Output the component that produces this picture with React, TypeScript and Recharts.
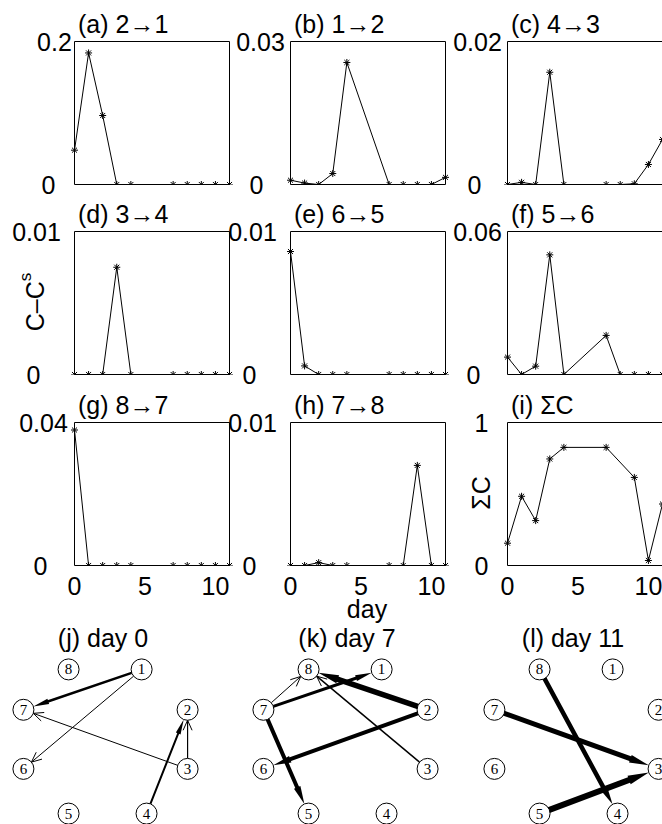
import React from 'react';
import { LineChart, Line, XAxis, YAxis, ScatterChart, Scatter } from 'recharts';

/* ---------- coupling time series ---------- */
const days = [0, 1, 2, 3, 4, 7, 8, 9, 10, 11];
const daysSum = [0, 1, 2, 3, 4, 7, 9, 10, 11];
const dayTicks = [0, 5, 10];

const c21 = [0.048, 0.184, 0.0965, 0, 0, 0, 0, 0, 0, 0];
const c12 = [0.0009, 0.0003, 0, 0.0023, 0.0256, 0, 0, 0, 0, 0.0015];
const c43 = [0, 0.0003, 0, 0.0157, 0, 0, 0, 0.0001, 0.0028, 0.0063];
const c34 = [0, 0, 0, 0.0075, 0, 0, 0, 0, 0, 0];
const c65 = [0.0086, 0.0006, 0, 0, 0, 0, 0, 0, 0, 0];
const c56 = [0.0073, 0, 0.0035, 0.0502, 0, 0.0164, 0, 0, 0, 0];
const c87 = [0.0379, 0, 0, 0, 0, 0, 0, 0, 0, 0];
const c78 = [0, 0, 0.0002, 0, 0, 0, 0, 0.007, 0, 0];
const sumC = [0.156, 0.484, 0.314, 0.745, 0.826, 0.826, 0.616, 0.035, 0.43];

/* ---------- network snapshots ---------- */
const nodeIds = [1, 2, 3, 4, 5, 6, 7, 8];
const nodeX = [0.44, 1, 1, 0.5, -0.45, -1, -1, -0.45];
const nodeY = [1, 0.44, -0.38, -1, -1, -0.38, 0.44, 1];

const day0From = [1, 1, 3, 3, 4];
const day0To = [7, 6, 7, 2, 2];
const day0Weight = [2.5, 1, 1, 1.2, 2];

const day7From = [7, 7, 2, 2, 3, 7];
const day7To = [8, 1, 8, 6, 8, 5];
const day7Weight = [1, 3, 5.5, 4, 1.5, 4];

const day11From = [7, 8, 5];
const day11To = [3, 4, 3];
const day11Weight = [5, 4.5, 6];

/* ---------- layout ---------- */
const FONT = "'Liberation Sans', Arial, Helvetica, sans-serif";
const SERIF = "'Liberation Serif', 'Times New Roman', serif";
const BOX_W = 155;
const BOX_H = 143;
const COL_X = [74, 290, 507];
const ROW_Y = [41, 231, 422];
const PAD_L = 70;
const PAD_T = 20;
const PAD_R = 6;
const PAD_B = 40;
const NODE_R = 10.5;

const series = (xs: number[], ys: number[]) => xs.map((d, i) => ({ day: d, v: ys[i] }));

interface Panel {
  title: string;
  data: { day: number; v: number }[];
  max: number;
  maxLabel: string;
  yTicks: number[];
  dx: [number, number];
}

const panels: Panel[] = [
  { title: '(a) 2→1', data: series(days, c21), max: 0.2, maxLabel: '0.2', yTicks: [0, 0.1, 0.2], dx: [-20, -26] },
  { title: '(b) 1→2', data: series(days, c12), max: 0.03, maxLabel: '0.03', yTicks: [0, 0.01, 0.02, 0.03], dx: [-30, -34] },
  { title: '(c) 4→3', data: series(days, c43), max: 0.02, maxLabel: '0.02', yTicks: [0, 0.01, 0.02], dx: [-30, -33] },
  { title: '(d) 3→4', data: series(days, c34), max: 0.01, maxLabel: '0.01', yTicks: [0, 0.005, 0.01], dx: [-38, -41] },
  { title: '(e) 6→5', data: series(days, c65), max: 0.01, maxLabel: '0.01', yTicks: [0, 0.005, 0.01], dx: [-38, -41] },
  { title: '(f) 5→6', data: series(days, c56), max: 0.06, maxLabel: '0.06', yTicks: [0, 0.02, 0.04, 0.06], dx: [-30, -34] },
  { title: '(g) 8→7', data: series(days, c87), max: 0.04, maxLabel: '0.04', yTicks: [0, 0.02, 0.04], dx: [-31, -34] },
  { title: '(h) 7→8', data: series(days, c78), max: 0.01, maxLabel: '0.01', yTicks: [0, 0.005, 0.01], dx: [-38, -41] },
  { title: '(i) ΣC', data: series(daysSum, sumC), max: 1, maxLabel: '1', yTicks: [0, 0.5, 1], dx: [-26, -26] },
];

const nodes = nodeIds.map((id, i) => ({ id, x: nodeX[i], y: nodeY[i] }));

const networks = [
  { title: '(j) day 0', cx: 105, from: day0From, to: day0To, weight: day0Weight },
  { title: '(k) day 7', cx: 345, from: day7From, to: day7To, weight: day7Weight },
  { title: '(l) day 11', cx: 576, from: day11From, to: day11To, weight: day11Weight },
];

// Matlab-style '*' marker
const Asterisk = (props: any) => {
  const { cx, cy, index } = props;
  if (cx == null || cy == null) return <g key={`s${index}`} />;
  const r = 3.5;
  const d = r * 0.72;
  return (
    <g key={`s${index}`} stroke="#000" strokeWidth={1}>
      <line x1={cx - r} y1={cy} x2={cx + r} y2={cy} />
      <line x1={cx} y1={cy - r} x2={cx} y2={cy + r} />
      <line x1={cx - d} y1={cy - d} x2={cx + d} y2={cy + d} />
      <line x1={cx - d} y1={cy + d} x2={cx + d} y2={cy - d} />
    </g>
  );
};

function TimePanel({ p, idx }: { p: Panel; idx: number }) {
  const col = idx % 3;
  const row = Math.floor(idx / 3);
  const bottomRow = row === 2;
  const plotLeft = PAD_L + 0.5;
  const plotBottom = PAD_T + 0.5 + BOX_H;

  const yLabel = (props: any) => {
    const v = props.payload.value;
    const isMax = v === p.max;
    return (
      <text
        x={plotLeft + (isMax ? p.dx[0] : p.dx[1])}
        y={props.y}
        textAnchor="middle"
        dominantBaseline="central"
        fontSize={25}
        fontFamily={FONT}
        fill="#000"
      >
        {isMax ? p.maxLabel : '0'}
      </text>
    );
  };

  const xLabel = (props: any) =>
    bottomRow ? (
      <text
        x={props.x}
        y={plotBottom + 20}
        textAnchor="middle"
        dominantBaseline="central"
        fontSize={25}
        fontFamily={FONT}
        fill="#000"
      >
        {props.payload.value}
      </text>
    ) : (
      <g />
    );

  const frame = { stroke: '#000', strokeWidth: 1 };

  return (
    <div style={{ position: 'absolute', left: COL_X[col] - PAD_L, top: ROW_Y[row] - PAD_T }}>
      <LineChart
        width={PAD_L + BOX_W + PAD_R + 0.5}
        height={PAD_T + BOX_H + PAD_B + 0.5}
        data={p.data}
        margin={{ top: PAD_T + 0.5, right: PAD_R, bottom: 0, left: 0.5 }}
      >
        <XAxis xAxisId="b" dataKey="day" type="number" domain={[0, 11]} ticks={dayTicks} interval={0}
          height={PAD_B} axisLine={false} tickLine={false} tick={xLabel} />
        <XAxis xAxisId="bm" orientation="bottom" mirror dataKey="day" type="number" domain={[0, 11]} ticks={dayTicks}
          interval={0} height={10} axisLine={frame} tickLine={frame} tickSize={3} tick={false} />
        <XAxis xAxisId="t" orientation="top" mirror dataKey="day" type="number" domain={[0, 11]} ticks={dayTicks}
          interval={0} height={10} axisLine={frame} tickLine={frame} tickSize={3} tick={false} />
        <YAxis yAxisId="l" type="number" domain={[0, p.max]} ticks={[0, p.max]} interval={0}
          width={PAD_L} axisLine={false} tickLine={false} tick={yLabel} allowDataOverflow />
        <YAxis yAxisId="lm" orientation="left" mirror type="number" domain={[0, p.max]} ticks={p.yTicks} interval={0}
          width={10} axisLine={frame} tickLine={frame} tickSize={3} tick={false} allowDataOverflow />
        <YAxis yAxisId="r" orientation="right" mirror type="number" domain={[0, p.max]} ticks={p.yTicks} interval={0}
          width={10} axisLine={frame} tickLine={frame} tickSize={3} tick={false} allowDataOverflow />
        <Line xAxisId="b" yAxisId="l" type="linear" dataKey="v" stroke="#000" strokeWidth={1}
          dot={Asterisk} activeDot={false} isAnimationActive={false} />
      </LineChart>
    </div>
  );
}

// directed edge: trimmed to node borders, arrowhead at the target
const edgeLine = (weight: number) => (props: any) => {
  const pts = props.points;
  if (!pts || pts.length < 2) return <g />;
  const [p, q] = pts;
  const dx = q.x - p.x;
  const dy = q.y - p.y;
  const len = Math.hypot(dx, dy) || 1;
  const ux = dx / len;
  const uy = dy / len;
  const nx = -uy;
  const ny = ux;
  const sx = p.x + ux * NODE_R;
  const sy = p.y + uy * NODE_R;
  const tx = q.x - ux * NODE_R;
  const ty = q.y - uy * NODE_R;
  if (weight < 2) {
    const hl = 10;
    const hw = 4.5;
    const bx = tx - ux * hl;
    const by = ty - uy * hl;
    return (
      <g>
        <line x1={sx} y1={sy} x2={tx} y2={ty} stroke="#000" strokeWidth={weight} />
        <polyline
          points={`${bx + nx * hw},${by + ny * hw} ${tx},${ty} ${bx - nx * hw},${by - ny * hw}`}
          fill="none" stroke="#000" strokeWidth={1}
        />
      </g>
    );
  }
  const hl = 12 + weight * 1.5;
  const hw = weight / 2 + 1.5;
  const bx = tx - ux * hl;
  const by = ty - uy * hl;
  return (
    <g>
      <line x1={sx} y1={sy} x2={bx + ux * 2} y2={by + uy * 2} stroke="#000" strokeWidth={weight} strokeLinecap="round" />
      <polygon
        points={`${tx},${ty} ${bx + nx * hw},${by + ny * hw} ${bx - nx * hw},${by - ny * hw}`}
        fill="#000"
      />
    </g>
  );
};

const NodeShape = (props: any) => {
  const { cx, cy, payload } = props;
  return (
    <g>
      <circle cx={cx} cy={cy} r={NODE_R} fill="#fff" stroke="#000" strokeWidth={1} />
      <text x={cx} y={cy + 5} textAnchor="middle" fontSize={15} fontFamily={SERIF} fill="#000">
        {payload.id}
      </text>
    </g>
  );
};

const NET_W = 197;
const NET_H = 173;
const NET_TOP = 655;

function Network({ net }: { net: (typeof networks)[number] }) {
  return (
    <div style={{ position: 'absolute', left: net.cx - NET_W / 2, top: NET_TOP }}>
      <ScatterChart width={NET_W} height={NET_H} margin={{ top: 0, right: 0, bottom: 0, left: 0 }}>
        <XAxis type="number" dataKey="x" domain={[-1.2, 1.2]} hide />
        <YAxis type="number" dataKey="y" domain={[-1.2, 1.2]} hide />
        {net.from.map((f, i) => (
          <Scatter
            key={`e${i}`}
            data={[nodes[f - 1], nodes[net.to[i] - 1]]}
            line={edgeLine(net.weight[i])}
            shape={() => <g />}
            isAnimationActive={false}
          />
        ))}
        <Scatter data={nodes} shape={NodeShape} isAnimationActive={false} />
      </ScatterChart>
    </div>
  );
}

export default function App() {
  const txt = { fontSize: 25, fontFamily: FONT, fill: '#000' };
  return (
    <div
      style={{
        position: 'absolute', left: 0, top: 0, width: 662, height: 824,
        overflow: 'hidden', background: '#fff',
      }}
    >
      {panels.map((p, i) => (
        <TimePanel key={p.title} p={p} idx={i} />
      ))}
      {networks.map((n) => (
        <Network key={n.title} net={n} />
      ))}
      <svg width={662} height={824} style={{ position: 'absolute', left: 0, top: 0, pointerEvents: 'none' }}>
        {panels.map((p, i) => (
          <text key={p.title} x={COL_X[i % 3] + 4} y={ROW_Y[Math.floor(i / 3)] - 8} {...txt}>
            {p.title}
          </text>
        ))}
        <text x={35} y={302} textAnchor="middle" dominantBaseline="central" transform="rotate(-90 35 302)" {...txt}>
          C–C<tspan fontSize={17} dy={-10}>s</tspan>
        </text>
        <text x={481} y={493} textAnchor="middle" dominantBaseline="central" transform="rotate(-90 481 493)" {...txt}>
          ΣC
        </text>
        <text x={367} y={618} textAnchor="middle" {...txt}>day</text>
        <text x={103} y={647} textAnchor="middle" {...txt}>(j) day 0</text>
        <text x={347} y={647} textAnchor="middle" {...txt}>(k) day 7</text>
        <text x={573} y={647} textAnchor="middle" {...txt}>(l) day 11</text>
      </svg>
    </div>
  );
}
